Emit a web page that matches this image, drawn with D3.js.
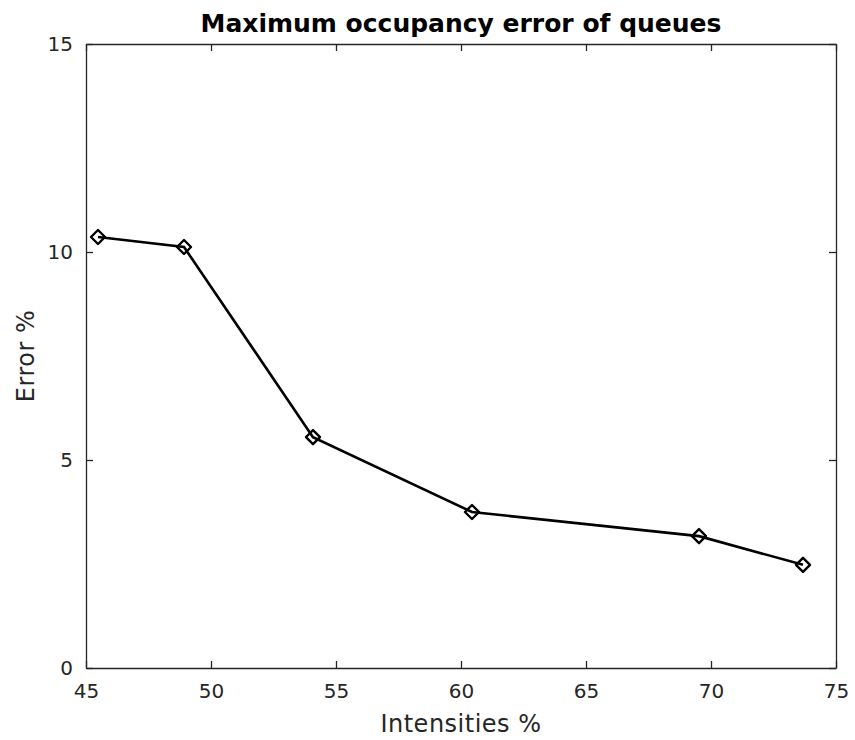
<!DOCTYPE html>
<html>
<head>
<meta charset="utf-8">
<script src="https://cdn.jsdelivr.net/npm/d3@7"></script>
<style>
  body { margin: 0; background: #fff; }
  text { font-family: "DejaVu Sans", sans-serif; }
</style>
</head>
<body>
<div id="chart"></div>
<script>
// valeurs
const intensities = [45.48, 48.92, 54.08, 60.44, 69.52, 73.68];
const errors = [10.36, 10.12, 5.55, 3.75, 3.17, 2.48];
const xTicks = [45, 50, 55, 60, 65, 70, 75];
const yTicks = [0, 5, 10, 15];

const width = 855, height = 740;
const margin = {left: 86, right: 19, top: 44, bottom: 72};
const axisColor = "#262626";

const svg = d3.select("#chart").append("svg")
    .attr("width", width)
    .attr("height", height);

const x = d3.scaleLinear().domain([45, 75]).range([margin.left, width - margin.right]);
const y = d3.scaleLinear().domain([0, 15]).range([height - margin.bottom, margin.top]);

const tickLen = 7;

// axes du bas et de gauche (ticks vers l'intérieur)
const gx = svg.append("g")
    .attr("transform", `translate(0,${y(0)})`)
    .call(d3.axisBottom(x).tickValues(xTicks).tickSizeInner(-tickLen).tickSizeOuter(0).tickPadding(14));
const gy = svg.append("g")
    .attr("transform", `translate(${x(45)},0)`)
    .call(d3.axisLeft(y).tickValues(yTicks).tickSizeInner(-tickLen).tickSizeOuter(0).tickPadding(13));
// axes du haut et de droite, sans étiquettes
const gt = svg.append("g")
    .attr("transform", `translate(0,${y(15)})`)
    .call(d3.axisTop(x).tickValues(xTicks).tickSizeInner(-tickLen).tickSizeOuter(0).tickFormat(""));
const gr = svg.append("g")
    .attr("transform", `translate(${x(75)},0)`)
    .call(d3.axisRight(y).tickValues(yTicks).tickSizeInner(-tickLen).tickSizeOuter(0).tickFormat(""));

[gx, gy, gt, gr].forEach(g => {
    g.select(".domain").attr("stroke", axisColor).attr("stroke-width", 1.3);
    g.selectAll(".tick line").attr("stroke", axisColor).attr("stroke-width", 1.3);
    g.selectAll(".tick text")
        .attr("fill", axisColor)
        .style("font-family", "DejaVu Sans, sans-serif")
        .style("font-size", "20px");
});
gx.selectAll(".tick text").attr("dy", "0.71em").attr("y", 16);

// courbe
const line = d3.line()
    .x((d, i) => x(intensities[i]))
    .y(d => y(d));

svg.append("path")
    .datum(errors)
    .attr("d", line)
    .attr("fill", "none")
    .attr("stroke", "#000")
    .attr("stroke-width", 2.6);

// marqueurs en losange
svg.selectAll(".marker")
    .data(errors)
    .enter()
    .append("path")
    .attr("class", "marker")
    .attr("transform", (d, i) => `translate(${x(intensities[i])},${y(d)})`)
    .attr("d", d3.symbol().type(d3.symbolDiamond2).size(125))
    .attr("fill", "none")
    .attr("stroke", "#000")
    .attr("stroke-width", 2.4)
    .attr("stroke-linejoin", "round");

// titre et libellés
svg.append("text")
    .attr("x", (x(45) + x(75)) / 2)
    .attr("y", 32)
    .attr("text-anchor", "middle")
    .style("font-size", "25px")
    .style("font-weight", "bold")
    .attr("fill", "#000")
    .text("Maximum occupancy error of queues");

svg.append("text")
    .attr("x", (x(45) + x(75)) / 2)
    .attr("y", 732)
    .attr("text-anchor", "middle")
    .style("font-size", "24px")
    .style("letter-spacing", "0.5px")
    .attr("fill", axisColor)
    .text("Intensities %");

svg.append("text")
    .attr("transform", `translate(34,${(y(0) + y(15)) / 2}) rotate(-90)`)
    .attr("text-anchor", "middle")
    .style("font-size", "24px")
    .style("letter-spacing", "0.5px")
    .attr("fill", axisColor)
    .text("Error %");
</script>
</body>
</html>
